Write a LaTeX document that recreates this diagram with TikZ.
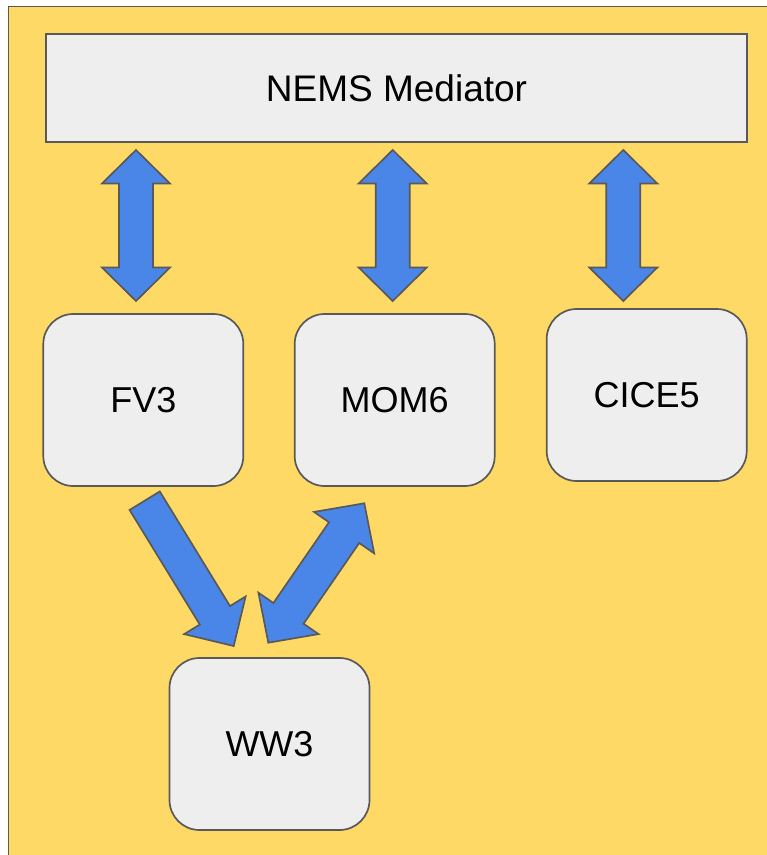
\documentclass[tikz,border=0pt]{standalone}
\usepackage{fontspec}
\setmainfont{Liberation Sans}
\usetikzlibrary{calc}
\definecolor{bgyellow}{HTML}{FFD966}
\definecolor{boxgray}{HTML}{EEEEEE}
\definecolor{linegray}{HTML}{595959}
\definecolor{arrowblue}{HTML}{4A86E8}
\tikzset{
  modbox/.style={draw=linegray, fill=boxgray, line width=1.7pt, rounded corners=30pt,
    minimum width=200pt, minimum height=172pt, inner sep=0pt, font=\fontsize{36}{40}\selectfont},
  medbox/.style={draw=linegray, fill=boxgray, line width=1.7pt,
    minimum width=701pt, minimum height=108pt, inner sep=0pt, font=\fontsize{37}{42}\selectfont},
  fatarrow/.style={draw=linegray, fill=arrowblue, line width=1.7pt, line join=miter}
}
% #1 start, #2 end, #3 head length, #4 head half width, #5 shaft half width
\newcommand\dblfat[5]{%
  \draw[fatarrow] (#1)
    -- ($(#1)!#3!(#2)!#4!90:(#2)$) -- ($(#1)!#3!(#2)!#5!90:(#2)$)
    -- ($(#2)!#3!(#1)!#5!-90:(#1)$) -- ($(#2)!#3!(#1)!#4!-90:(#1)$)
    -- (#2)
    -- ($(#2)!#3!(#1)!#4!90:(#1)$) -- ($(#2)!#3!(#1)!#5!90:(#1)$)
    -- ($(#1)!#3!(#2)!#5!-90:(#2)$) -- ($(#1)!#3!(#2)!#4!-90:(#2)$)
    -- cycle;}
\newcommand\singlefat[5]{%
  \draw[fatarrow] ($(#1)!#5!90:(#2)$)
    -- ($(#2)!#3!(#1)!#5!-90:(#1)$) -- ($(#2)!#3!(#1)!#4!-90:(#1)$)
    -- (#2)
    -- ($(#2)!#3!(#1)!#4!90:(#1)$) -- ($(#2)!#3!(#1)!#5!90:(#1)$)
    -- ($(#1)!#5!-90:(#2)$) -- cycle;}
\begin{document}
\begin{tikzpicture}[x=1pt, y=-1pt]
\useasboundingbox (0,0) rectangle (767,855);
\clip (0,0) rectangle (767,855);
\fill[white] (0,0) rectangle (767,855);
\filldraw[fill=bgyellow, draw=linegray, line width=1.7pt] (8.5,6.5) rectangle (790,880);

\node[medbox] (nems) at (396.5,88) {NEMS Mediator};
\node[modbox] (fv3) at (143.3,400) {FV3};
\node[modbox] (mom6) at (394.7,400) {MOM6};
\node[modbox] (cice5) at (646.7,395) {CICE5};
\node[modbox] (ww3) at (269.5,744) {WW3};

% vertical coupling arrows
\coordinate (v1a) at (136,150);   \coordinate (v1b) at (136,301);
\coordinate (v2a) at (392.7,150); \coordinate (v2b) at (392.7,301);
\coordinate (v3a) at (623.3,150); \coordinate (v3b) at (623.3,301);
\dblfat{v1a}{v1b}{33.5pt}{34pt}{17pt}
\dblfat{v2a}{v2b}{33.5pt}{34pt}{17pt}
\dblfat{v3a}{v3b}{33.5pt}{34pt}{17pt}

% FV3 -> WW3
\coordinate (s1a) at (144.7,500.7); \coordinate (s1b) at (233.7,646);
\singlefat{s1a}{s1b}{36pt}{36pt}{17.7pt}

% WW3 <-> MOM6
\coordinate (d1a) at (268.3,642.7); \coordinate (d1b) at (364.3,503.3);
\dblfat{d1a}{d1b}{35.6pt}{36.5pt}{18.3pt}
\end{tikzpicture}
\end{document}
